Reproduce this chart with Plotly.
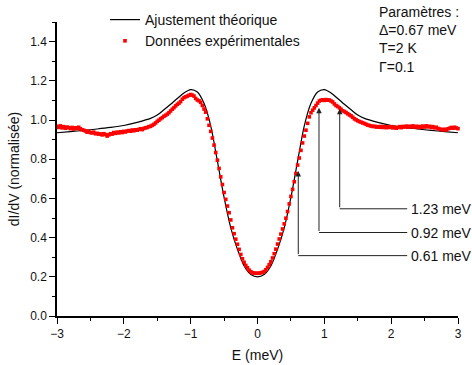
import numpy as np
import plotly.graph_objects as go

# ---------------- data ----------------
# theoretical fit (Dynes, Δ=0.67 meV, T=2 K, Γ=0.1)
E_theory = [-3.0, -2.8, -2.6, -2.4, -2.2, -2.0, -1.8, -1.6, -1.5, -1.4, -1.3, -1.2,
            -1.1, -1.0, -0.9, -0.8, -0.7, -0.6, -0.5, -0.4, -0.3, -0.2, -0.1, 0.0,
            0.1, 0.2, 0.3, 0.4, 0.5, 0.6, 0.7, 0.8, 0.9, 1.0, 1.1, 1.2,
            1.3, 1.4, 1.5, 1.6, 1.8, 2.0, 2.2, 2.4, 2.6, 2.8, 3.0]
G_theory = [0.935, 0.941, 0.947, 0.954, 0.962, 0.972, 0.988, 1.008, 1.025, 1.052, 1.080, 1.110,
            1.138, 1.155, 1.143, 1.085, 0.970, 0.790, 0.605, 0.450, 0.340, 0.255, 0.212, 0.200,
            0.212, 0.255, 0.340, 0.450, 0.605, 0.790, 0.970, 1.085, 1.143, 1.155, 1.138, 1.110,
            1.080, 1.052, 1.025, 1.008, 0.988, 0.972, 0.962, 0.954, 0.947, 0.941, 0.935]

# experimental data: bias grid (0.025 meV step, -3 .. 3 meV) and measured dI/dV
E_data = np.round(np.linspace(-3.0, 3.0, 241), 3)
G_data = [
    # -3.000 .. -2.825
    0.968, 0.962, 0.970, 0.960, 0.966, 0.958, 0.964, 0.961,
    # -2.800 .. -2.625
    0.956, 0.962, 0.954, 0.960, 0.957, 0.963, 0.955, 0.950,
    # -2.600 .. -2.425
    0.948, 0.944, 0.938, 0.942, 0.936, 0.934, 0.938, 0.930,
    # -2.400 .. -2.225
    0.932, 0.928, 0.929, 0.924, 0.930, 0.926, 0.918, 0.924,
    # -2.200 .. -2.025
    0.930, 0.928, 0.936, 0.932, 0.938, 0.934, 0.940, 0.936,
    # -2.000 .. -1.825
    0.942, 0.939, 0.944, 0.946, 0.943, 0.949, 0.945, 0.950,
    # -1.800 .. -1.625
    0.948, 0.952, 0.955, 0.951, 0.957, 0.960, 0.962, 0.966,
    # -1.600 .. -1.425
    0.968, 0.973, 0.978, 0.985, 0.993, 0.999, 1.006, 1.012,
    # -1.400 .. -1.225
    1.019, 1.024, 1.030, 1.037, 1.046, 1.055, 1.063, 1.072,
    # -1.200 .. -1.025
    1.080, 1.086, 1.094, 1.106, 1.114, 1.118, 1.122, 1.126,
    # -1.000 .. -0.825
    1.130, 1.127, 1.122, 1.110, 1.102, 1.098, 1.090, 1.074,
    # -0.800 .. -0.625
    1.056, 1.040, 1.006, 0.973, 0.942, 0.908, 0.872, 0.834,
    # -0.600 .. -0.425
    0.795, 0.753, 0.710, 0.671, 0.630, 0.595, 0.561, 0.527,
    # -0.400 .. -0.225
    0.490, 0.450, 0.420, 0.392, 0.366, 0.340, 0.314, 0.292,
    # -0.200 .. -0.025
    0.274, 0.258, 0.246, 0.234, 0.226, 0.221, 0.218, 0.218,
    # 0.000
    0.218,
    # 0.025 .. 0.200
    0.218, 0.220, 0.223, 0.227, 0.236, 0.248, 0.262, 0.277,
    # 0.225 .. 0.400
    0.296, 0.318, 0.341, 0.367, 0.393, 0.418, 0.444, 0.470,
    # 0.425 .. 0.600
    0.499, 0.533, 0.572, 0.610, 0.646, 0.685, 0.727, 0.770,
    # 0.625 .. 0.800
    0.806, 0.845, 0.883, 0.918, 0.948, 0.983, 1.016, 1.037,
    # 0.825 .. 1.000
    1.050, 1.062, 1.074, 1.086, 1.097, 1.101, 1.103, 1.100,
    # 1.025 .. 1.200
    1.104, 1.101, 1.102, 1.097, 1.092, 1.082, 1.074, 1.069,
    # 1.225 .. 1.400
    1.062, 1.055, 1.047, 1.043, 1.038, 1.032, 1.026, 1.021,
    # 1.425 .. 1.600
    1.014, 1.006, 1.001, 0.996, 0.992, 0.989, 0.985, 0.982,
    # 1.625 .. 1.800
    0.978, 0.974, 0.972, 0.969, 0.967, 0.968, 0.964, 0.966,
    # 1.825 .. 2.000
    0.963, 0.967, 0.962, 0.966, 0.961, 0.965, 0.962, 0.966,
    # 2.025 .. 2.200
    0.960, 0.963, 0.958, 0.962, 0.966, 0.961, 0.967, 0.964,
    # 2.225 .. 2.400
    0.969, 0.963, 0.968, 0.965, 0.970, 0.964, 0.968, 0.962,
    # 2.425 .. 2.600
    0.967, 0.963, 0.969, 0.964, 0.970, 0.965, 0.968, 0.962,
    # 2.625 .. 2.800
    0.966, 0.960, 0.963, 0.957, 0.954, 0.952, 0.950, 0.953,
    # 2.825 .. 3.000
    0.949, 0.955, 0.958, 0.962, 0.958, 0.963, 0.959, 0.956,
]

# marked energies: (energy, arrow tip value, label line value)
mark_E = [0.61, 0.92, 1.23]
mark_tip = [0.74, 1.062, 1.058]
mark_base = [0.308, 0.426, 0.547]
mark_labels = ["0.61 meV", "0.92 meV", "1.23 meV"]
label_E = 2.24

FONT = "Liberation Sans, Arial, sans-serif"

fig = go.Figure()
fig.add_trace(go.Scatter(
    x=E_theory, y=G_theory, mode="lines", name="Ajustement théorique",
    line=dict(color="black", width=1.2, shape="spline", smoothing=0.8),
    cliponaxis=False,
))
fig.add_trace(go.Scatter(
    x=E_data, y=G_data, mode="markers", name="Données expérimentales",
    marker=dict(symbol="square", size=3.6, color="#ff0000", line=dict(width=0)),
    cliponaxis=False,
))

for e, tip, base, lab in zip(mark_E, mark_tip, mark_base, mark_labels):
    fig.add_annotation(
        x=e, y=tip, ax=e, ay=base, xref="x", yref="y", axref="x", ayref="y",
        text="", showarrow=True, arrowhead=2, arrowsize=1.1, arrowwidth=1,
        arrowcolor="#222222", standoff=0,
    )
    fig.add_shape(type="line", x0=e, x1=label_E, y0=base, y1=base,
                  xref="x", yref="y", line=dict(color="#222222", width=1))
    fig.add_annotation(
        x=label_E + 0.03, y=base, xref="x", yref="y", text=lab, showarrow=False,
        xanchor="left", yanchor="middle", font=dict(size=14, color="#111111", family=FONT),
    )

fig.add_annotation(
    x=(377 - 57) / 401, y=1 + 20 / 294, xref="paper", yref="paper",
    text="Paramètres :<br>Δ=0.67 meV<br>T=2 K<br>Γ=0.1",
    showarrow=False, xanchor="left", yanchor="top", align="left",
    font=dict(size=14, color="#111111", family=FONT),
)

fig.update_layout(
    width=472, height=365,
    margin=dict(l=57, r=14, t=22, b=49, autoexpand=False),
    paper_bgcolor="white", plot_bgcolor="white",
    font=dict(family=FONT, size=12, color="#111111"),
    showlegend=True,
    legend=dict(
        x=(105 - 57) / 401, y=1 + 18 / 294, xanchor="left", yanchor="top",
        bgcolor="rgba(0,0,0,0)", borderwidth=0,
        font=dict(size=14, family=FONT, color="#111111"),
        tracegroupgap=0, itemsizing="trace",
    ),
    xaxis=dict(
        range=[-3, 3], dtick=1, tick0=0, showgrid=False, zeroline=False, automargin=False,
        showline=True, linecolor="black", linewidth=1.5, mirror=False,
        ticks="outside", ticklen=6, tickwidth=1.2, tickcolor="black",
        minor=dict(dtick=0.5, ticks="outside", ticklen=3, tickwidth=1.2, tickcolor="black"),
        tickfont=dict(size=12),
        title=dict(text="E (meV)", font=dict(size=14), standoff=10),
    ),
    yaxis=dict(
        range=[0, 1.5], dtick=0.2, tick0=0, tickformat=".1f", showgrid=False, zeroline=False,
        automargin=False,
        showline=True, linecolor="black", linewidth=1.5, mirror=False,
        ticks="outside", ticklen=6, tickwidth=1.2, tickcolor="black",
        minor=dict(dtick=0.1, ticks="outside", ticklen=3, tickwidth=1.2, tickcolor="black"),
        tickfont=dict(size=12),
        title=dict(text="dI/dV (normalisée)", font=dict(size=14), standoff=7),
    ),
)

fig.write_html(
    "out.html",
    config={"displayModeBar": False},
    post_script="document.body.style.margin='0';document.body.style.padding='0';"
                "document.body.style.overflow='hidden';",
)
